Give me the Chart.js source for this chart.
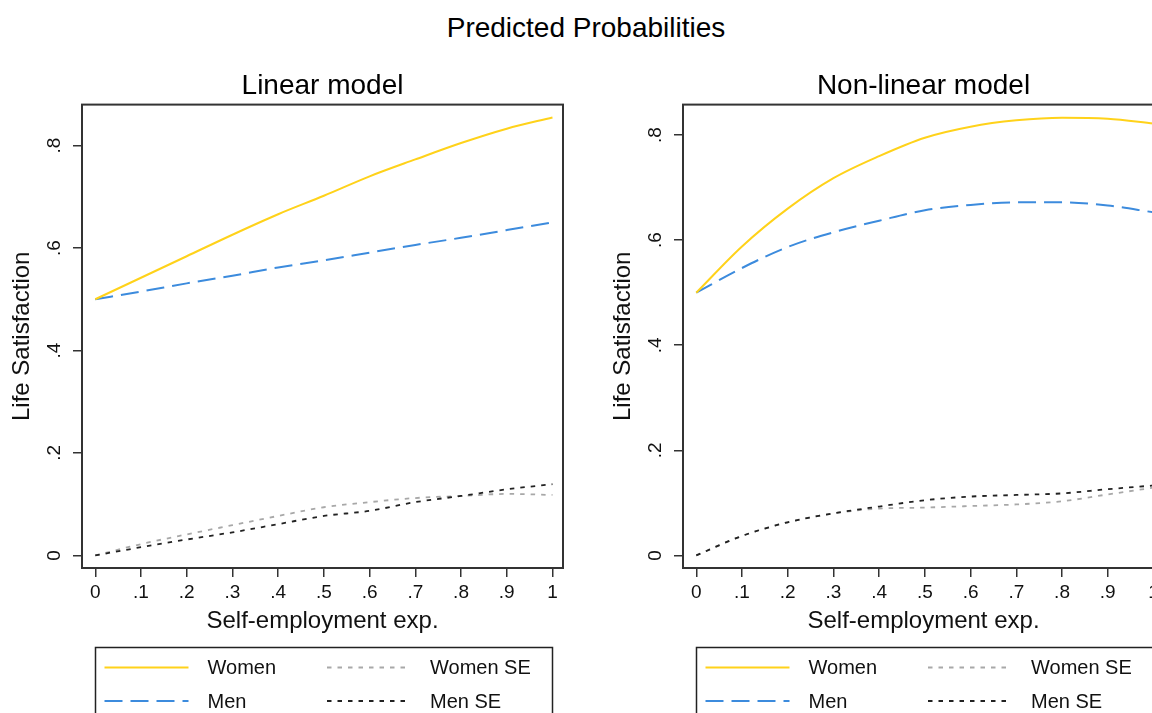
<!DOCTYPE html>
<html>
<head>
<meta charset="utf-8">
<script src="https://cdn.jsdelivr.net/npm/chart.js@4"></script>
<style>
  html, body { margin: 0; padding: 0; background: #fff; }
  body { width: 1152px; height: 713px; overflow: hidden; position: relative; font-family: "Liberation Sans", Arial, sans-serif; }
  #mainTitle { position: absolute; left: 586px; top: 14px; transform: translateX(-50%); font-size: 28px; line-height: 28px; color: #000; white-space: nowrap; }
  canvas { position: absolute; top: 0; }
  #chartLinear { left: 0; }
  #chartNonLinear { left: 601px; }
</style>
</head>
<body>
<div id="mainTitle">Predicted Probabilities</div>
<canvas id="chartLinear" width="601" height="713"></canvas>
<canvas id="chartNonLinear" width="601" height="713"></canvas>
<script>
// values
const expValues = [0, .1, .2, .3, .4, .5, .6, .7, .8, .9, 1];
const xTicks = [0, .1, .2, .3, .4, .5, .6, .7, .8, .9, 1];
const yTicks = [0, .2, .4, .6, .8];

const linWomen   = [0.500, 0.542, 0.584, 0.626, 0.666, 0.702, 0.740, 0.773, 0.805, 0.833, 0.855];
const linMen     = [0.500, 0.515, 0.531, 0.546, 0.562, 0.576, 0.591, 0.606, 0.620, 0.635, 0.650];
const linWomenSE = [0.000, 0.022, 0.041, 0.059, 0.077, 0.094, 0.104, 0.112, 0.116, 0.120, 0.118];
const linMenSE   = [0.000, 0.016, 0.031, 0.045, 0.061, 0.077, 0.087, 0.104, 0.116, 0.129, 0.139];

const nlWomen   = [0.500, 0.588, 0.660, 0.718, 0.760, 0.795, 0.816, 0.828, 0.833, 0.831, 0.822];
const nlMen     = [0.500, 0.547, 0.587, 0.615, 0.637, 0.657, 0.667, 0.672, 0.672, 0.666, 0.653];
const nlWomenSE = [0.000, 0.037, 0.063, 0.080, 0.089, 0.091, 0.094, 0.097, 0.103, 0.116, 0.129];
const nlMenSE   = [0.000, 0.037, 0.063, 0.080, 0.093, 0.105, 0.112, 0.115, 0.118, 0.126, 0.133];

const FONT = '"Liberation Sans", Arial, sans-serif';
Chart.defaults.font.family = FONT;
Chart.defaults.color = '#000';

/*
    Stata style number labels: .2 instead of 0.2
*/
function fmt(v) {
    const r = Math.round(v * 10) / 10;
    if (r === 0) return "0";
    if (r === 1) return "1";
    return r.toString().replace(/^0/, "");
}

function toPoints(ys) {
    return expValues.map((x, i) => ({x: x, y: ys[i]}));
}

// black frame round the plot region
const plotBox = {
    id: 'plotBox',
    afterDatasetsDraw(chart) {
        const a = chart.chartArea, ctx = chart.ctx;
        ctx.save();
        ctx.strokeStyle = '#333';
        ctx.lineWidth = 2;
        ctx.strokeRect(a.left, a.top, a.right - a.left, a.bottom - a.top);
        ctx.restore();
    }
};

// vertical y tick labels, placed by the y scale
const yLabels = {
    id: 'yLabels',
    afterDraw(chart) {
        const s = chart.scales.y, ctx = chart.ctx;
        ctx.save();
        ctx.fillStyle = '#111';
        ctx.font = '19px ' + FONT;
        ctx.textAlign = 'center';
        ctx.textBaseline = 'middle';
        s.ticks.forEach(t => {
            const py = s.getPixelForValue(t.value);
            ctx.save();
            ctx.translate(55, py);
            ctx.rotate(-Math.PI / 2);
            ctx.fillText(fmt(t.value), 0, 0);
            ctx.restore();
        });
        ctx.restore();
    }
};

// two column legend in a box, like the Stata one
const boxLegend = {
    id: 'boxLegend',
    afterDraw(chart) {
        const ctx = chart.ctx;
        const sets = chart.data.datasets;
        const rows = [667.5, 701];
        const cols = [{x0: 104.5, x1: 188.5, tx: 207.5}, {x0: 327, x1: 411, tx: 430}];
        ctx.save();
        ctx.strokeStyle = '#222';
        ctx.lineWidth = 1.5;
        ctx.strokeRect(95.5, 647.5, 457, 80);
        ctx.font = '20px ' + FONT;
        ctx.textBaseline = 'middle';
        ctx.textAlign = 'left';
        sets.forEach((ds, i) => {
            const c = cols[Math.floor(i / 2)], y = rows[i % 2];
            ctx.save();
            ctx.strokeStyle = ds.borderColor;
            ctx.lineWidth = ds.borderWidth;
            ctx.setLineDash(ds.borderDash || []);
            ctx.beginPath();
            ctx.moveTo(c.x0, y);
            ctx.lineTo(c.x1, y);
            ctx.stroke();
            ctx.restore();
            ctx.fillStyle = '#111';
            ctx.fillText(ds.label, c.tx, y + 1);
        });
        ctx.restore();
    }
};

/*
    Creates one panel
*/
function setPanel(canvasId, panelTitle, women, men, womenSE, menSE, yMin, yMax) {
    const ctx = document.getElementById(canvasId);
    new Chart(ctx, {
        type: "line",
        data: {
            datasets: [
                {label: "Women", data: toPoints(women), borderColor: "#FFD21A", borderWidth: 2, order: 0},
                {label: "Men", data: toPoints(men), borderColor: "#3C8BDD", borderWidth: 2, borderDash: [18, 8], order: 1},
                {label: "Women SE", data: toPoints(womenSE), borderColor: "#A8A8A8", borderWidth: 1.8, borderDash: [4.5, 6], order: 3},
                {label: "Men SE", data: toPoints(menSE), borderColor: "#222", borderWidth: 1.8, borderDash: [4.5, 6], order: 2}
            ]
        },
        options: {
            responsive: false,
            animation: false,
            layout: {padding: {top: 59, left: 0, right: 38, bottom: 75}},
            elements: {
                point: {radius: 0},
                line: {cubicInterpolationMode: 'monotone', fill: false}
            },
            plugins: {
                legend: {display: false},
                tooltip: {enabled: false},
                title: {
                    display: true,
                    text: panelTitle,
                    fullSize: false,
                    color: '#000',
                    font: {size: 28, weight: 'normal'},
                    padding: {top: 10, bottom: 2}
                }
            },
            scales: {
                x: {
                    type: 'linear',
                    min: -0.029,
                    max: 1.023,
                    afterBuildTicks: s => { s.ticks = xTicks.map(v => ({value: v})); },
                    afterFit: s => { s.height = 70; },
                    ticks: {
                        callback: v => fmt(v),
                        font: {size: 19},
                        color: '#111',
                        padding: 4,
                        maxRotation: 0,
                        autoSkip: false
                    },
                    grid: {drawOnChartArea: false, drawTicks: true, tickLength: 9, color: '#333', lineWidth: 1.5},
                    border: {display: false},
                    title: {
                        display: true,
                        text: "Self-employment exp.",
                        color: '#111',
                        font: {size: 24},
                        padding: {top: 2, bottom: 2}
                    }
                },
                y: {
                    type: 'linear',
                    min: yMin,
                    max: yMax,
                    afterBuildTicks: s => { s.ticks = yTicks.map(v => ({value: v})); },
                    afterFit: s => { s.width = 82; },
                    ticks: {display: false},
                    grid: {drawOnChartArea: false, drawTicks: true, tickLength: 9, color: '#333', lineWidth: 1.5},
                    border: {display: false},
                    title: {
                        display: true,
                        text: "Life Satisfaction",
                        color: '#111',
                        font: {size: 24},
                        padding: {top: 8, bottom: 0}
                    }
                }
            }
        },
        plugins: [plotBox, yLabels, boxLegend]
    });
}

setPanel("chartLinear", "Linear model", linWomen, linMen, linWomenSE, linMenSE, -0.0246, 0.880);
setPanel("chartNonLinear", "Non-linear model", nlWomen, nlMen, nlWomenSE, nlMenSE, -0.024, 0.858);
</script>
</body>
</html>
